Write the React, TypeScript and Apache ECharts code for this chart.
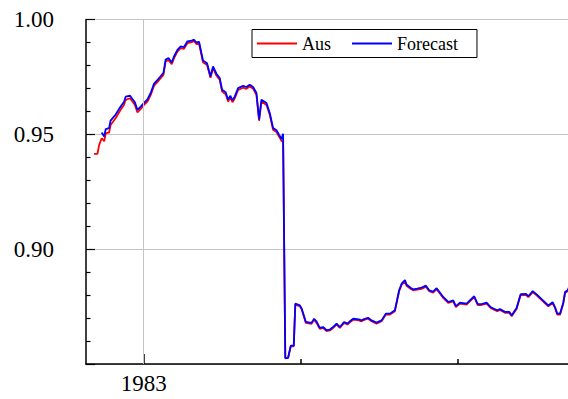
import React, { useEffect, useRef } from "react";
import * as echarts from "echarts";

const dates = [
  1982.683, 1982.705, 1982.716, 1982.732, 1982.748, 1982.758, 1982.779, 1982.789, 1982.821, 1982.853,
  1982.874, 1982.885, 1982.913, 1982.928, 1982.944, 1982.96, 1982.981, 1983.002, 1983.024, 1983.045,
  1983.066, 1983.087, 1983.108, 1983.126, 1983.14, 1983.158, 1983.179, 1983.193, 1983.215, 1983.236,
  1983.257, 1983.279, 1983.306, 1983.321, 1983.336, 1983.353, 1983.368, 1983.378, 1983.404, 1983.426,
  1983.442, 1983.464, 1983.485, 1983.5, 1983.523, 1983.538, 1983.553, 1983.566, 1983.581, 1983.602,
  1983.634, 1983.655, 1983.676, 1983.698, 1983.719, 1983.736, 1983.751, 1983.783, 1983.804, 1983.825,
  1983.847, 1983.863, 1983.879, 1983.889, 1983.903, 1983.921, 1983.938, 1983.957, 1983.967, 1983.996,
  1984.008, 1984.034, 1984.07, 1984.087, 1984.102, 1984.123, 1984.144, 1984.166, 1984.187, 1984.208,
  1984.23, 1984.251, 1984.278, 1984.3, 1984.315, 1984.336, 1984.372, 1984.389, 1984.41, 1984.431,
  1984.453, 1984.485, 1984.517, 1984.544, 1984.57, 1984.602, 1984.629, 1984.646, 1984.666, 1984.676,
  1984.704, 1984.719, 1984.744, 1984.772, 1984.8, 1984.821, 1984.846, 1984.868, 1984.889, 1984.91,
  1984.942, 1984.974, 1984.991, 1985.017, 1985.059, 1985.08, 1985.108, 1985.13, 1985.155, 1985.187,
  1985.214, 1985.255, 1985.272, 1985.304, 1985.331, 1985.347, 1985.378, 1985.404, 1985.438, 1985.453,
  1985.481, 1985.506, 1985.548, 1985.58, 1985.608, 1985.623, 1985.638, 1985.655, 1985.676, 1985.687,
  1985.704, 1985.719,
];

const aus = [
  0.9415, 0.9415, 0.9454, 0.9483, 0.947, 0.9505, 0.9507, 0.9541, 0.957, 0.9607,
  0.9628, 0.965, 0.9657, 0.9643, 0.9628, 0.9595, 0.9611, 0.9628, 0.9643, 0.9672,
  0.9712, 0.9727, 0.9744, 0.9759, 0.9817, 0.9824, 0.9805, 0.9831, 0.986, 0.9875,
  0.9872, 0.9897, 0.9901, 0.9907, 0.9893, 0.9896, 0.9846, 0.9814, 0.9802, 0.9746,
  0.9788, 0.9756, 0.9737, 0.9686, 0.9675, 0.9643, 0.966, 0.964, 0.9657, 0.9693,
  0.9703, 0.9698, 0.9708, 0.9698, 0.9672, 0.9559, 0.9643, 0.9628, 0.9585, 0.952,
  0.951, 0.949, 0.9472, 0.9466, 0.8527, 0.8527, 0.8577, 0.8577, 0.8759, 0.8751,
  0.8737, 0.8679, 0.8675, 0.8693, 0.8679, 0.8653, 0.8657, 0.8643, 0.8646, 0.8657,
  0.8672, 0.8657, 0.8679, 0.8672, 0.8682, 0.8693, 0.869, 0.8686, 0.8693, 0.8697,
  0.8686, 0.8676, 0.8686, 0.8715, 0.8715, 0.873, 0.8817, 0.8846, 0.886, 0.8841,
  0.8827, 0.8821, 0.8824, 0.8827, 0.8837, 0.8817, 0.8811, 0.8826, 0.8807, 0.8788,
  0.8766, 0.8773, 0.8748, 0.8763, 0.8759, 0.8773, 0.8791, 0.8757, 0.8757, 0.8763,
  0.8743, 0.873, 0.8735, 0.8723, 0.8723, 0.8708, 0.874, 0.88, 0.8801, 0.8791,
  0.8813, 0.8799, 0.8772, 0.8751, 0.8765, 0.8744, 0.8715, 0.8715, 0.8763, 0.8809,
  0.8817, 0.8841,
];

const forecast = [
  null, null, null, 0.9508, 0.9491, 0.9523, 0.9527, 0.956, 0.9586, 0.9621,
  0.9641, 0.9664, 0.9668, 0.9654, 0.964, 0.9606, 0.9621, 0.9637, 0.9652, 0.9681,
  0.9721, 0.9736, 0.9753, 0.9768, 0.9826, 0.9832, 0.9813, 0.9839, 0.9868, 0.9883,
  0.988, 0.9905, 0.9908, 0.9912, 0.99, 0.9903, 0.9854, 0.9822, 0.981, 0.9752,
  0.9796, 0.9764, 0.9745, 0.9694, 0.9683, 0.9651, 0.9668, 0.9648, 0.9665, 0.9701,
  0.9711, 0.9706, 0.9716, 0.9706, 0.968, 0.9565, 0.9651, 0.9636, 0.9593, 0.9528,
  0.9518, 0.9498, 0.948, 0.9502, 0.8525, 0.8527, 0.858, 0.858, 0.8763, 0.8755,
  0.8741, 0.8683, 0.8679, 0.8697, 0.8686, 0.8657, 0.8661, 0.8647, 0.865, 0.8661,
  0.8676, 0.8661, 0.8683, 0.8676, 0.8686, 0.8697, 0.8694, 0.869, 0.8697, 0.8701,
  0.869, 0.868, 0.869, 0.8719, 0.8719, 0.8734, 0.8821, 0.8851, 0.8865, 0.8846,
  0.8831, 0.8825, 0.8828, 0.8833, 0.8841, 0.8821, 0.8815, 0.883, 0.8811, 0.8792,
  0.877, 0.8777, 0.8752, 0.8767, 0.8763, 0.8777, 0.8795, 0.8761, 0.8761, 0.8767,
  0.8747, 0.8734, 0.8739, 0.8727, 0.8727, 0.8712, 0.8744, 0.8804, 0.8805, 0.8795,
  0.8817, 0.8803, 0.8776, 0.8755, 0.8769, 0.8748, 0.8719, 0.8719, 0.8767, 0.8813,
  0.8821, 0.8845,
];

const yearLabels = [1983];
const yearTicks = [1984, 1985];

const FONT = "Liberation Serif";

export default function App() {
  const ref = useRef<HTMLDivElement>(null);
  useEffect(() => {
    if (!ref.current) return;
    const chart = echarts.init(ref.current, undefined, { renderer: "svg" });
    const xMin = 1982.632;
    const xMax = 1985.706;
    chart.setOption({
      animation: false,
      backgroundColor: "#fff",
      textStyle: { fontFamily: FONT },
      grid: { left: 86, top: 19.5, right: 0, bottom: 35, containLabel: false },
      legend: {
        left: 252,
        top: 29.5,
        orient: "horizontal",
        padding: [5, 19, 5, 5],
        itemGap: 21,
        itemWidth: 40,
        itemHeight: 2,
        icon: "rect",
        borderColor: "#000",
        borderWidth: 1,
        borderRadius: 0,
        backgroundColor: "#fff",
        textStyle: { fontFamily: FONT, fontSize: 18, color: "#000" },
        data: [
          { name: "Aus", icon: "rect", itemStyle: { color: "#ff0000" } },
          { name: "Forecast", icon: "rect", itemStyle: { color: "#0000ff" } },
        ],
      },
      xAxis: [
        {
          type: "value",
          min: xMin,
          max: xMax,
          axisLine: { show: true, lineStyle: { color: "#000", width: 1.5 } },
          axisTick: { show: true, inside: true, length: 10, customValues: yearLabels, lineStyle: { color: "#000", width: 1.5 } },
          axisLabel: {
            show: true,
            customValues: yearLabels,
            margin: 8,
            fontFamily: FONT,
            fontSize: 23,
            color: "#000",
            formatter: (v: number) => String(Math.round(v)),
          },
          splitLine: { show: false },
        },
        {
          type: "value",
          min: xMin,
          max: xMax,
          position: "bottom",
          axisLine: { show: false },
          axisTick: { show: true, inside: true, length: 5, customValues: yearTicks, lineStyle: { color: "#000", width: 1.5 } },
          axisLabel: { show: false },
          splitLine: { show: false },
        },
      ],
      yAxis: {
        type: "value",
        min: 0.85,
        max: 1.0,
        interval: 0.05,
        axisLine: { show: true, lineStyle: { color: "#000", width: 1.5 } },
        axisTick: { show: true, inside: true, length: 9, lineStyle: { color: "#000", width: 1.2 } },
        minorTick: { show: true, splitNumber: 5, length: 4.5, lineStyle: { color: "#000", width: 1.2 } },
        axisLabel: {
          margin: 32,
          fontFamily: FONT,
          fontSize: 23,
          color: "#000",
          formatter: (v: number) => (v < 0.86 ? "" : v.toFixed(2)),
        },
        splitLine: { show: true, lineStyle: { color: "#c4c4c4", width: 1 } },
      },
      series: [
        {
          name: "Aus",
          type: "line",
          xAxisIndex: 0,
          data: dates.map((d, i) => [d, aus[i]]),
          symbol: "none",
          lineStyle: { color: "#ff0000", width: 1.8 },
          itemStyle: { color: "#ff0000" },
          markLine: {
            silent: true,
            symbol: "none",
            label: { show: false },
            lineStyle: { color: "#c4c4c4", width: 1, type: "solid" },
            data: yearLabels.map((y) => ({ xAxis: y })),
          },
          z: 2,
        },
        {
          name: "Forecast",
          type: "line",
          xAxisIndex: 0,
          data: dates.map((d, i) => [d, forecast[i]]),
          symbol: "none",
          connectNulls: false,
          lineStyle: { color: "#0000ff", width: 1.8 },
          itemStyle: { color: "#0000ff" },
          z: 3,
        },
      ],
    });
    return () => chart.dispose();
  }, []);
  return (
    <div
      ref={ref}
      style={{ position: "fixed", left: 0, top: 0, width: 568, height: 399 }}
    />
  );
}
